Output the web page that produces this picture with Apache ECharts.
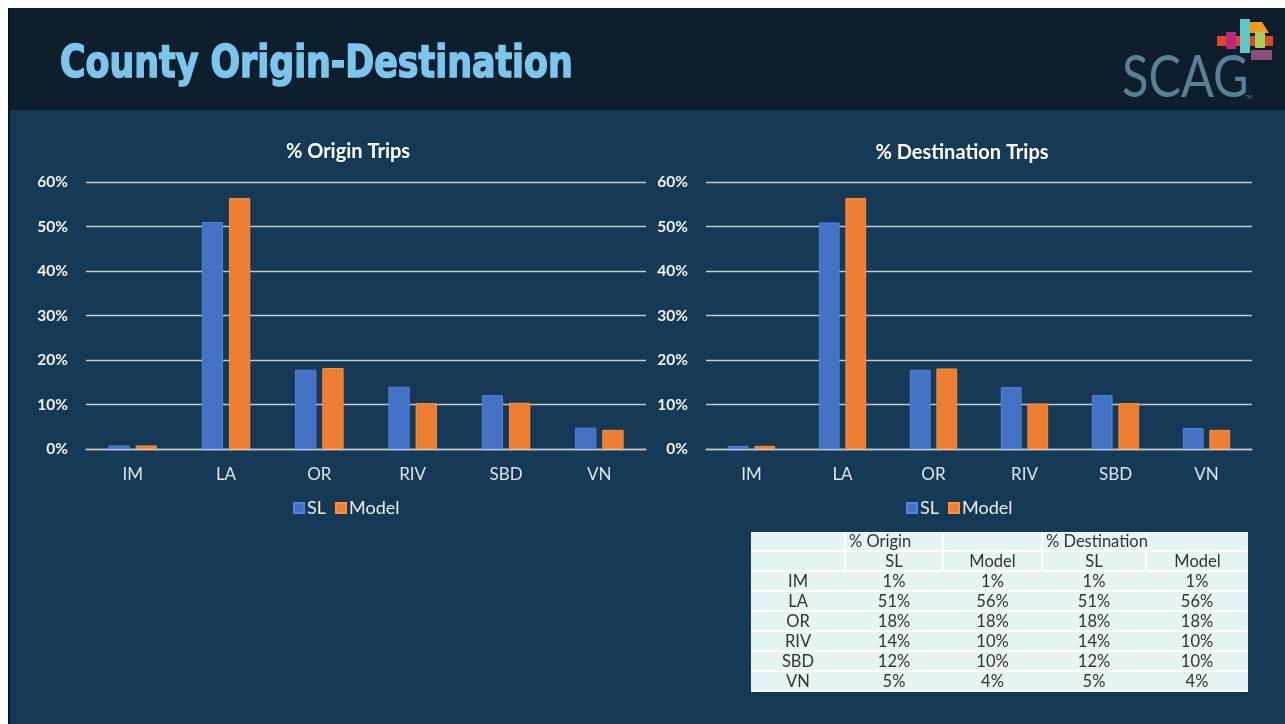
<!DOCTYPE html>
<html>
<head>
<meta charset="utf-8">
<script src="https://cdn.jsdelivr.net/npm/echarts@6/dist/echarts.min.js"></script>
<style>
  body { margin: 0; background: #fff; }
  #chart { position: absolute; left: 0; top: 0; width: 1285px; height: 724px; }
  #tbl {
    position: absolute; left: 751px; top: 532px; width: 497px; table-layout: fixed;
    border-collapse: collapse; background: #e6f3f3;
    font-family: Lato, "Open Sans", sans-serif; font-size: 16.5px; color: #333;
  }
  #tbl td { height: 18px; padding: 0; text-align: center; line-height: 18px;
    border-bottom: 2px solid #fff; white-space: nowrap; }
  #tbl tr.h td { border-right: 2px solid #fff; }
  #tbl td.l { text-align: left; padding-left: 3px; }
</style>
</head>
<body>
<div id="chart"></div>
<table id="tbl"></table>
<script>
// data (percent)
const categories = ['IM', 'LA', 'OR', 'RIV', 'SBD', 'VN'];
const originSL = [0.8, 51.0, 17.8, 14.0, 12.1, 4.8];
const originModel = [0.8, 56.4, 18.2, 10.3, 10.4, 4.3];
const destSL = [0.7, 50.9, 17.8, 13.9, 12.1, 4.7];
const destModel = [0.7, 56.4, 18.1, 10.2, 10.3, 4.3];
const yMin = 0, yMax = 60, yStep = 10;

const blue = '#4472c4', orange = '#ed7d31';
const gridColor = '#c3c8cd';
const font = 'Lato, "Open Sans", sans-serif';

function xAxisFor(i) {
  return {
    type: 'category', gridIndex: i, data: categories,
    axisLine: { lineStyle: { color: gridColor, width: 1.3 } },
    axisTick: { show: false },
    axisLabel: { color: '#dde3e8', fontSize: 17, fontFamily: font, margin: 17 }
  };
}
function yAxisFor(i) {
  return {
    type: 'value', gridIndex: i, min: yMin, max: yMax, interval: yStep,
    axisLine: { show: false }, axisTick: { show: false },
    axisLabel: { formatter: '{value}%', color: '#f2f4f6', fontSize: 15.5,
      fontWeight: 'bold', fontFamily: font, margin: 18 },
    splitLine: { lineStyle: { color: gridColor, width: 1.3 } }
  };
}
function barSeries(name, data, color, i) {
  return {
    name: name, type: 'bar', xAxisIndex: i, yAxisIndex: i, data: data,
    barGap: '28%', barCategoryGap: '48%',
    itemStyle: { color: color, borderColor: echarts.color.lift(color, -0.15), borderWidth: 1 }
  };
}

let option = {
  backgroundColor: '#fff',
  animation: false,
  title: [
    { text: '% Origin Trips', left: 343, top: 137, textAlign: 'center',
      textStyle: { color: '#fff', fontSize: 20, fontWeight: 'bold', fontFamily: font } },
    { text: '% Destination Trips', left: 957, top: 138, textAlign: 'center',
      textStyle: { color: '#fff', fontSize: 20, fontWeight: 'bold', fontFamily: font } }
  ],
  legend: [
    { data: ['SL', 'Model'], left: 288, top: 494, itemWidth: 10, itemHeight: 10, itemGap: 9,
      icon: 'rect', textStyle: { color: '#e8ecef', fontSize: 18, fontFamily: font, padding: [0, 0, 0, -2] } },
    { data: ['SL 2', 'Model 2'], left: 901, top: 494, itemWidth: 10, itemHeight: 10, itemGap: 9,
      icon: 'rect', formatter: n => n.replace(' 2', ''),
      textStyle: { color: '#e8ecef', fontSize: 18, fontFamily: font, padding: [0, 0, 0, -2] } }
  ],
  grid: [
    { left: 86, right: 1285 - 646, top: 182, bottom: 724 - 449 },
    { left: 706, right: 1285 - 1252, top: 182, bottom: 724 - 449 }
  ],
  xAxis: [xAxisFor(0), xAxisFor(1)],
  yAxis: [yAxisFor(0), yAxisFor(1)],
  series: [
    barSeries('SL', originSL, blue, 0),
    barSeries('Model', originModel, orange, 0),
    barSeries('SL 2', destSL, blue, 1),
    barSeries('Model 2', destModel, orange, 1)
  ],
  graphic: [
    { type: 'rect', z: -10, shape: { x: 8, y: 8, width: 1277, height: 716 }, style: { fill: '#163a56' } },
    { type: 'rect', z: -9, shape: { x: 8, y: 8, width: 1277, height: 102 }, style: { fill: '#0d1e2c' } },
    { type: 'rect', z: -8, shape: { x: 8, y: 8, width: 2, height: 716 }, style: { fill: '#0a1520' } },
    { type: 'text', z: 5, x: 60, y: 65, scaleX: 0.86,
      style: { text: 'County Origin-Destination', fill: '#7cc6ee', fontSize: 45, fontWeight: 'bold',
        fontFamily: '"DejaVu Sans Condensed", "DejaVu Sans", sans-serif', verticalAlign: 'middle',
        stroke: '#7cc6ee', lineWidth: 1.5 } },
    // logo
    { type: 'text', z: 5, x: 1122, y: 78, scaleX: 0.84,
      style: { text: 'SCAG', fill: '#5b7f95', fontSize: 58, fontFamily: 'Lato, sans-serif',
        verticalAlign: 'middle', letterSpacing: -5 } },
    { type: 'text', z: 5, x: 1245, y: 95,
      style: { text: 'TM', fill: '#5b7f95', fontSize: 5, fontFamily: 'Lato, sans-serif' } },
    { type: 'rect', z: 6, shape: { x: 1217, y: 36, width: 56, height: 10 }, style: { fill: '#e0482a' } },
    { type: 'polygon', z: 6, shape: { points: [[1250, 22], [1262, 22], [1269, 33], [1250, 33]] }, style: { fill: '#f39a1e' } },
    { type: 'rect', z: 7, shape: { x: 1240, y: 19, width: 10, height: 34 }, style: { fill: '#5cc9c9' } },
    { type: 'rect', z: 7, shape: { x: 1226, y: 32, width: 10, height: 17 }, style: { fill: '#c0267a' } },
    { type: 'rect', z: 7, shape: { x: 1255, y: 32, width: 10, height: 16 }, style: { fill: '#a6cf5a' } },
    { type: 'rect', z: 6, shape: { x: 1251, y: 50, width: 21, height: 10 }, style: { fill: '#8a4f7e' } }
  ]
};

let mychart = echarts.init(document.getElementById('chart'));
mychart.setOption(option);

// summary table built from the same arrays
const pct = v => Math.round(v) + '%';
let html = '<colgroup><col style="width:94px"><col style="width:98px"><col style="width:99px">' +
  '<col style="width:104px"><col style="width:102px"></colgroup>' +
  '<tr class="h"><td></td><td class="l">% Origin</td>' +
  '<td></td><td class="l">% Destination</td><td style="border-right:none"></td></tr>' +
  '<tr class="h"><td></td><td>SL</td><td>Model</td><td>SL</td><td style="border-right:none">Model</td></tr>';
categories.forEach((c, i) => {
  html += '<tr><td>' + c + '</td><td>' + pct(originSL[i]) + '</td><td>' + pct(originModel[i]) +
    '</td><td>' + pct(destSL[i]) + '</td><td>' + pct(destModel[i]) + '</td></tr>';
});
document.getElementById('tbl').innerHTML = html;
</script>
</body>
</html>
